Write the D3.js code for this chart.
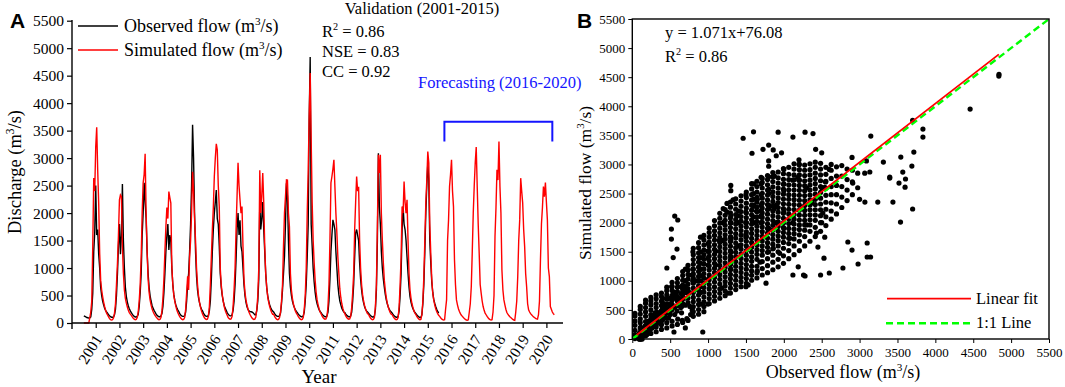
<!DOCTYPE html>
<html><head><meta charset="utf-8">
<script src="https://cdn.jsdelivr.net/npm/d3@7"></script>
<style>
body{margin:0;background:#fff}
svg{display:block}
text{font-family:"Liberation Serif","Times New Roman",serif;fill:#000}
</style>
</head><body>
<svg id="c" width="1065" height="387"></svg>
<script>
// ---------- DATA ----------
const years = d3.range(2001, 2021);          // simulated 2001-2020
const obsYears = d3.range(2001, 2016);       // observed 2001-2015
// half-monthly discharge (m3/s), 24 values per year starting Jan 1
const simulated = [
 [0,0,0,0,0,0,100,200,400,1400,2640,2400,3200,3560,2780,2180,1270,780,600,480,380,300,230,180],
 [145,110,80,60,55,60,90,180,350,700,1090,1600,2240,2330,2300,1390,900,600,450,360,290,230,190,160],
 [140,110,85,70,60,65,100,200,400,700,1200,2000,2550,2700,3080,2000,1300,800,560,420,330,260,210,170],
 [140,110,90,70,60,65,100,220,450,800,1300,1750,2100,1900,2390,2280,2180,1025,700,500,400,310,240,190],
 [150,115,90,70,60,65,100,250,550,850,600,1200,1500,2000,2750,2400,1900,1500,1000,700,500,380,290,220],
 [170,130,95,75,65,70,120,300,700,1200,1694,2100,2665,3000,3260,3150,2500,2118,1000,700,520,400,300,230],
 [180,140,100,80,70,75,120,300,600,1000,1694,2300,2914,2500,2240,2000,2118,1390,800,560,420,330,260,200],
 [160,125,95,75,65,70,110,250,500,1000,2780,2000,2300,2730,2200,1400,900,650,480,380,300,240,190,160],
 [160,120,90,70,60,65,100,200,400,700,1400,2000,2300,2605,2600,2000,1750,900,600,450,350,280,220,180],
 [150,115,90,70,60,65,100,250,500,1000,2000,2787,3760,4550,3333,2200,1510,1100,780,560,420,330,260,200],
 [170,130,100,80,70,75,120,300,700,1500,2550,2665,2800,2969,2483,2000,1640,1200,900,620,460,350,270,210],
 [170,130,100,80,70,75,120,280,550,900,1694,2200,2665,2400,2480,1510,1000,700,520,400,320,260,210,170],
 [160,120,90,70,60,65,100,300,700,1750,3060,2730,3060,2000,1510,1100,780,600,460,360,290,230,190,160],
 [150,115,90,70,60,65,100,300,700,1200,2118,2000,2574,2200,2000,2240,1500,900,600,450,350,280,220,180],
 [150,115,90,70,60,65,150,400,843,1500,2186,2600,3120,2914,1800,1270,800,545,420,330,260,210,170,140],
 [120,95,75,60,55,60,250,420,1500,1876,2483,2700,2969,2400,2118,1150,700,420,330,260,210,170,140,120],
 [100,80,65,55,50,60,200,350,660,1300,2000,2500,2914,3200,2483,1800,1270,700,545,400,300,230,180,150],
 [120,95,75,60,55,60,200,500,1573,2100,2787,2600,3302,2483,2000,965,600,420,330,250,190,160,135,115],
 [100,80,65,55,50,200,400,843,1500,1876,2635,2400,2186,1700,1390,900,660,350,240,200,170,150,130,110],
 [100,85,75,70,150,400,1150,1800,2100,2483,2300,2556,2200,1876,1000,843,300,250,200,170,150]
];
const observed = [
 [130,120,110,100,95,90,95,110,250,540,1300,1650,2500,1600,1700,1250,1000,650,500,400,330,270,230,200],
 [180,150,130,115,105,105,110,150,250,500,900,1400,1800,1250,1600,2530,1500,1000,650,480,380,310,260,220],
 [190,160,135,120,110,110,120,160,300,550,900,1600,2000,2550,2200,1900,1300,900,650,500,400,320,270,230],
 [200,165,140,125,115,115,125,170,300,550,900,1300,1600,1800,1330,1600,1500,1000,700,520,410,330,280,240],
 [210,170,145,130,120,120,130,200,400,700,900,1300,1800,2500,3606,3000,2000,1300,850,600,460,370,300,250],
 [220,180,150,130,120,120,135,220,400,800,1300,1700,2000,2200,2420,1900,1800,1400,900,650,500,400,320,270],
 [230,190,160,140,130,130,150,230,400,700,1150,1700,2000,1600,1870,1400,1300,1000,700,500,380,300,250,220],
 [210,205,200,190,170,150,150,230,400,800,2185,1700,1900,2200,1700,1300,900,650,500,400,330,280,240,220],
 [200,170,145,130,120,120,130,180,350,600,900,1210,1800,2540,2300,1500,900,650,500,400,330,280,240,210],
 [190,160,140,125,115,115,130,200,400,700,1200,1800,3700,4840,1800,1400,1000,750,560,430,350,290,240,210],
 [190,160,140,125,115,115,130,200,400,800,1300,1600,1876,1800,1700,1300,1000,700,520,400,330,270,230,200],
 [190,160,140,125,115,115,130,200,400,700,1200,1640,1700,1600,1500,1100,800,600,460,370,300,250,220,200],
 [180,155,135,120,110,110,130,250,600,1500,3090,2118,1800,1300,1000,800,650,520,420,350,290,250,220,200],
 [180,150,130,115,105,105,120,220,500,900,1700,2119,1800,1700,1500,1200,900,650,480,380,310,260,220,190],
 [170,145,125,110,100,100,150,350,700,1300,2000,2500,2900,2600,1500,1100,750,560,430,360,300,250,210,180]
];
// dense daily pairs: [observed, [simulated values at that observed flow]]
const scatterColumns = [
 [35,[8,75,150,235,310,395,440]],
 [105,[35,120,190,280,345,430,505,560]],
 [175,[55,150,225,300,390,465,540,615,670]],
 [245,[95,180,260,345,420,500,585,655,715]],
 [315,[125,205,295,370,455,540,610,690,760]],
 [385,[165,245,330,410,490,575,650,730,790]],
 [455,[190,280,360,445,520,600,685,760,830,890]],
 [525,[225,305,590,670,750,835,905,975]],
 [595,[250,575,655,735,815,890,965,1040]],
 [665,[285,610,690,770,850,925,1010,1090,1160]],
 [735,[320,625,705,790,865,945,1030,1110,1185,1265]],
 [805,[390,470,555,640,715,800,875,960,1045,1120,1200,1285,1365,1450,1560]],
 [875,[425,505,595,670,755,835,915,995,1075,1160,1235,1320,1400,1480,1570,1655]],
 [945,[470,560,640,720,805,885,960,1045,1125,1205,1290,1370,1450,1530,1615,1700,1780]],
 [1015,[610,695,775,860,935,1020,1100,1185,1260,1345,1425,1505,1590,1665,1750,1830,1905]],
 [1085,[655,735,815,895,980,1055,1140,1215,1300,1380,1455,1540,1620,1700,1780,1860,1945,2035]],
 [1155,[700,785,860,945,1025,1105,1180,1265,1345,1420,1505,1585,1660,1745,1825,1905,1990,2075,2160]],
 [1225,[745,825,910,985,1070,1150,1230,1310,1395,1470,1555,1630,1715,1790,1875,1955,2040,2125,2225]],
 [1295,[790,875,955,1035,1110,1195,1275,1355,1430,1515,1595,1675,1750,1835,1915,1995,2080,2170,2265,2355]],
 [1365,[850,925,1010,1090,1170,1250,1330,1415,1490,1570,1650,1735,1810,1895,1975,2055,2140,2230,2320,2410]],
 [1435,[900,985,1060,1145,1225,1300,1385,1465,1545,1620,1705,1785,1865,1940,2025,2105,2190,2280,2370,2460]],
 [1505,[955,1040,1115,1200,1280,1360,1440,1520,1600,1680,1760,1840,1925,2000,2085,2165,2250,2335,2430,2525]],
 [1575,[1010,1095,1170,1250,1335,1410,1495,1575,1655,1730,1815,1895,1975,2050,2135,2215,2300,2390,2480,2580,2670]],
 [1645,[1050,1140,1250,1370,1455,1535,1615,1700,1780,1860,1940,2020,2100,2185,2265,2350,2435,2525,2620,2710]],
 [1715,[1100,1210,1330,1440,1520,1600,1685,1765,1845,1925,2005,2090,2170,2250,2335,2420,2505,2595,2690,2760]],
 [1785,[1140,1260,1380,1490,1575,1655,1735,1820,1900,1980,2060,2145,2225,2310,2390,2475,2560,2650,2740,2810]],
 [1855,[1190,1320,1440,1550,1630,1715,1795,1875,1955,2035,2120,2200,2285,2365,2450,2530,2615,2705,2790,2860]],
 [1925,[1240,1370,1500,1600,1690,1770,1850,1935,2015,2095,2180,2260,2345,2425,2510,2595,2680,2770,2870]],
 [1995,[1300,1430,1560,1660,1750,1830,1915,1995,2075,2160,2240,2325,2405,2490,2575,2660,2745,2840,2930]],
 [2065,[1380,1520,1640,1730,1815,1900,1985,2065,2150,2230,2315,2400,2480,2565,2650,2740,2830,2950]],
 [2135,[1450,1600,1720,1810,1890,1975,2060,2140,2225,2310,2395,2475,2560,2645,2735,2820,2920,3010]],
 [2205,[1520,1680,1790,1880,1960,2045,2130,2215,2300,2385,2470,2555,2640,2730,2820,2910,3000]],
 [2275,[1600,1760,1870,1960,2040,2125,2210,2295,2380,2465,2550,2635,2720,2810,2900,2990]],
 [2345,[1680,1850,1960,2050,2135,2220,2305,2390,2475,2560,2645,2730,2820,2910,3010]],
 [2415,[1760,1920,2040,2130,2220,2310,2400,2490,2580,2670,2760,2850,2950,3040]],
 [2485,[1850,2000,2120,2220,2320,2420,2520,2620,2720,2820,2920,3020]],
 [2555,[1950,2100,2230,2350,2470,2590,2710,2830,2950]],
 [2625,[2060,2200,2340,2480,2620,2760,2900,3000]],
 [2695,[2150,2320,2480,2640,2800,2960]],
 [2765,[2260,2440,2620,2800,2980]],
 [2835,[2380,2560,2740,2920]],
 [2905,[2480,2700,2900]],
 [2975,[2600,2850]]
];
const scatterOutliers = [
 [4838,4519],[4459,3952],[3836,3608],[3836,3470],[3148,3488],[3716,3213],[3544,3127],[3690,2973],[3314,3041],[3570,2869],[3398,2784],[3700,2234],[3540,2010],[2845,1667],[3100,1650],[2900,1529],[3100,1409],[3145,1409],[2980,1289],[2780,1220],[2485,1100],[2600,1134],[2260,1100],[560,2113],[600,2045],[516,1890],[516,1718],[590,1546],[456,1220],[550,120],[700,190],[930,120],[1463,3450],[1925,3555],[2120,3470],[2280,3555],[2385,3530],[1580,3193],[1725,3260],[1860,3250],[1970,3200],
 [560,420],[600,340],[660,320],[720,350],[770,420],[790,500],[760,560],[700,580],[640,540],[590,480],
 [3398,2766],[3520,2680],[3600,2610],[3068,2850],[3135,2870],[2910,2680],
 [3070,2354],[3240,2354],[3440,2354],[2370,2340],[2515,2165],[2300,1960],[2430,1820],[2540,1750],[2450,1580],
 [1860,1560],[1685,1320],[1945,1470],[2080,1730],[2120,1100],[1765,960],[1530,930],[1265,790],[1180,876],[1650,1170],[2280,1083],[2190,1240]
];
const fitLine = [[58,69],[4838,4892]];
const oneToOne = [[0,0],[5500,5500]];
const forecastBracket = [[2016.2,3300],[2016.2,3660],[2020.75,3660],[2020.75,3300]];
const yTicksA = d3.range(0, 5501, 500);
const ticksB = d3.range(0, 5501, 500);

// ---------- HELPERS ----------
const svg = d3.select("#c");
const SERIF = '"Liberation Serif","Times New Roman",serif';
function rich(g, x, y, parts, fs, opts = {}) {
  const t = g.append("text").attr("x", x).attr("y", y).style("font-size", fs + "px");
  if (opts.anchor) t.attr("text-anchor", opts.anchor);
  if (opts.fill) t.style("fill", opts.fill);
  if (opts.transform) t.attr("transform", opts.transform);
  let raised = false;
  parts.forEach(p => {
    if (Array.isArray(p)) {
      t.append("tspan").attr("dy", -fs * 0.4).style("font-size", (fs * 0.62) + "px").text(p[0]);
      raised = true;
    } else {
      const s = t.append("tspan").text(p);
      if (raised) { s.attr("dy", fs * 0.4); raised = false; }
    }
  });
  return t;
}

// ---------- PANEL A ----------
const xA = d3.scaleLinear().domain([2000.5, 2021.2]).range([72, 563]);
const yA = d3.scaleLinear().domain([0, 5500]).range([323, 20.7]);
const gA = svg.append("g");

const simSeries = years.flatMap((y, k) => simulated[k].map((v, i) => ({ t: y + i / 24, v })));
const obsSeries = obsYears.flatMap((y, k) => observed[k].map((v, i) => ({ t: y + i / 24, v })));
const lineA = d3.line().x(d => xA(d.t)).y(d => yA(d.v));

gA.append("path").datum(obsSeries).attr("d", lineA).attr("fill", "none").attr("stroke", "#000").attr("stroke-width", 1.4);
gA.append("path").datum(simSeries).attr("d", lineA).attr("fill", "none").attr("stroke", "#ff0000").attr("stroke-width", 1.4);

const axL = gA.append("g").attr("transform", `translate(${xA.range()[0]},0)`)
  .attr("font-family", SERIF)
  .call(d3.axisLeft(yA).tickValues(yTicksA).tickFormat(d3.format("d")).tickSize(5).tickPadding(3));
axL.select(".domain").remove();
axL.selectAll("text").style("font-size", "15.5px").style("font-family", SERIF);
axL.selectAll("line").attr("stroke-width", 1.2);
gA.append("line").attr("x1", 72).attr("x2", 72).attr("y1", 20).attr("y2", 329).attr("stroke", "#000").attr("stroke-width", 1.4);

const axB = gA.append("g").attr("transform", `translate(0,${yA(0)})`)
  .attr("font-family", SERIF)
  .call(d3.axisBottom(xA).tickValues(years.map(y => y + 0.5)).tickFormat(d => String(Math.floor(d))).tickSize(5));
axB.select(".domain").remove();
axB.selectAll("line").attr("stroke-width", 1.2);
axB.selectAll("text")
  .style("font-size", "15.5px").style("font-family", SERIF)
  .attr("x", 2).attr("y", 13).attr("dy", "0.35em").attr("text-anchor", "end")
  .attr("transform", "rotate(-58 2 13)");
gA.append("line").attr("x1", 72).attr("x2", 563).attr("y1", yA(0)).attr("y2", yA(0)).attr("stroke", "#000").attr("stroke-width", 1.4);

gA.append("text").attr("x", 319).attr("y", 383).attr("text-anchor", "middle").style("font-size", "19px").text("Year");
rich(gA, 0, 0, ["Discharge (m", ["3"], "/s)"], 18.5, { anchor: "middle", transform: "translate(21,172) rotate(-90)" });

gA.append("line").attr("x1", 78).attr("x2", 118).attr("y1", 26).attr("y2", 26).attr("stroke", "#000").attr("stroke-width", 1.3);
gA.append("line").attr("x1", 78).attr("x2", 118).attr("y1", 50).attr("y2", 50).attr("stroke", "#ff0000").attr("stroke-width", 1.3);
rich(gA, 124, 32, ["Observed flow (m", ["3"], "/s)"], 18);
rich(gA, 124, 56, ["Simulated flow (m", ["3"], "/s)"], 18);

gA.append("text").attr("x", 422).attr("y", 14).attr("text-anchor", "middle").style("font-size", "16.5px").text("Validation (2001-2015)");
rich(gA, 322, 37, ["R", ["2"], " = 0.86"], 16.5);
gA.append("text").attr("x", 322).attr("y", 57).style("font-size", "16.5px").text("NSE = 0.83");
gA.append("text").attr("x", 322).attr("y", 77).style("font-size", "16.5px").text("CC = 0.92");
gA.append("text").attr("x", 418).attr("y", 88).style("font-size", "16.5px").style("fill", "#1414ff").text("Forecasting (2016-2020)");
gA.append("path").datum(forecastBracket)
  .attr("d", d3.line().x(d => xA(d[0])).y(d => yA(d[1])))
  .attr("fill", "none").attr("stroke", "#1414ff").attr("stroke-width", 2);

svg.append("text").attr("x", 10).attr("y", 28).style("font-family", '"Liberation Sans",Arial,sans-serif')
  .style("font-weight", "bold").style("font-size", "21px").text("A");

// ---------- PANEL B ----------
const xB = d3.scaleLinear().domain([0, 5500]).range([632.3, 1049]);
const yB = d3.scaleLinear().domain([0, 5500]).range([339, 19]);
const gB = svg.append("g");

const pairs = obsYears.flatMap((y, k) => observed[k].map((o, i) => [o, simulated[k][i]]));
const columnPts = scatterColumns.flatMap(([o, sims]) => sims.map(s => [o, s]));
const allPts = pairs.concat(columnPts, scatterOutliers);
gB.selectAll("circle.pt").data(allPts).join("circle").attr("class", "pt")
  .attr("cx", d => xB(d[0])).attr("cy", d => yB(d[1])).attr("r", 2.6).attr("fill", "#000");

gB.append("path").datum(oneToOne).attr("d", d3.line().x(d => xB(d[0])).y(d => yB(d[1])))
  .attr("stroke", "#00ff00").attr("stroke-width", 2.4).attr("stroke-dasharray", "7,4").attr("fill", "none");
gB.append("path").datum(fitLine).attr("d", d3.line().x(d => xB(d[0])).y(d => yB(d[1])))
  .attr("stroke", "#ff0000").attr("stroke-width", 1.8).attr("fill", "none");

gB.append("rect").attr("x", 632.3).attr("y", 19).attr("width", 1049 - 632.3).attr("height", 339 - 19)
  .attr("fill", "none").attr("stroke", "#000").attr("stroke-width", 1.4);

const bx = gB.append("g").attr("transform", "translate(0,339)").attr("font-family", SERIF)
  .call(d3.axisBottom(xB).tickValues(ticksB).tickFormat(d3.format("d")).tickSize(4).tickPadding(5));
bx.select(".domain").remove();
bx.selectAll("text").style("font-size", "13px").style("font-family", SERIF);
const by = gB.append("g").attr("transform", "translate(632.3,0)").attr("font-family", SERIF)
  .call(d3.axisLeft(yB).tickValues(ticksB).tickFormat(d3.format("d")).tickSize(4).tickPadding(3));
by.select(".domain").remove();
by.selectAll("text").style("font-size", "13px").style("font-family", SERIF);

rich(gB, 843, 378, ["Observed flow (m", ["3"], "/s)"], 18, { anchor: "middle" });
rich(gB, 0, 0, ["Simulated flow (m", ["3"], "/s)"], 17.5, { anchor: "middle", transform: "translate(591,183) rotate(-90)" });

rich(gB, 665, 38, ["y = 1.071x+76.08"], 16.5);
rich(gB, 665, 61.5, ["R", ["2"], " = 0.86"], 16.5);

gB.append("line").attr("x1", 887).attr("x2", 971).attr("y1", 298.7).attr("y2", 298.7).attr("stroke", "#ff0000").attr("stroke-width", 1.8);
gB.append("line").attr("x1", 886).attr("x2", 970).attr("y1", 323.3).attr("y2", 323.3).attr("stroke", "#00ff00").attr("stroke-width", 2.4).attr("stroke-dasharray", "7,4");
gB.append("text").attr("x", 976).attr("y", 304).style("font-size", "16.5px").text("Linear fit");
gB.append("text").attr("x", 976).attr("y", 328).style("font-size", "16.5px").text("1:1 Line");

svg.append("text").attr("x", 577).attr("y", 28).style("font-family", '"Liberation Sans",Arial,sans-serif')
  .style("font-weight", "bold").style("font-size", "21px").text("B");
</script>
</body></html>
